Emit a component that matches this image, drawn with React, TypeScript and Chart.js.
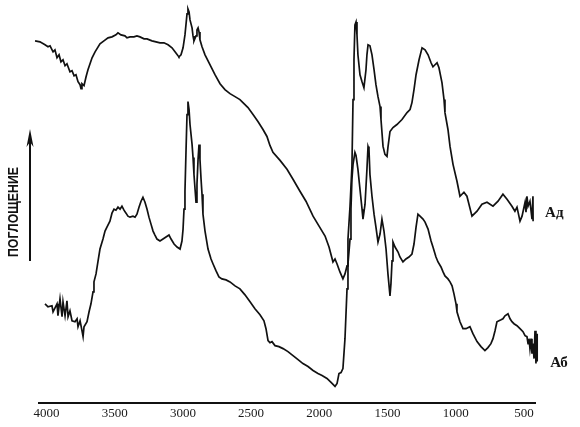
import React, { useEffect, useRef } from "react";
import { Chart, registerables } from "chart.js";

Chart.register(...registerables);

// Wavenumber (cm-1) / absorbance (arbitrary units)
const adWavenumbers = [4084,4048,4011,3989,3974,3952,3938,3923,3908,3894,3879,3864,3850,3828,3813,3798,3784,3769,3754,3747,3740,3725,3710,3696,3681,3666,3644,3608,3579,3549,3520,3491,3476,3454,3425,3410,3388,3359,3337,3315,3285,3263,3227,3197,3168,3139,3109,3080,3058,3036,3029,3014,2999,2985,2977,2970,2963,2955,2948,2933,2926,2919,2904,2897,2889,2882,2875,2860,2838,2801,2765,2728,2692,2655,2618,2582,2560,2523,2486,2450,2413,2384,2362,2340,2288,2237,2193,2142,2098,2046,2002,1958,1929,1900,1885,1870,1849,1827,1812,1797,1790,1775,1761,1753,1746,1739,1731,1724,1717,1702,1687,1673,1658,1651,1643,1629,1614,1599,1585,1570,1555,1548,1533,1519,1504,1497,1482,1460,1431,1394,1357,1335,1321,1306,1291,1269,1247,1225,1203,1181,1167,1152,1137,1123,1101,1086,1079,1057,1042,1020,991,969,940,918,881,844,808,771,727,690,654,624,588,566,551,529,514,492,485,478,470,456,441,434,433];
const adAbsorbance = [364,363,360,358,359,353,355,347,350,343,345,339,341,333,334,329,330,323,320,316,321,319,328,335,341,347,353,361,364,367,368,370,372,370,369,367,368,368,369,368,366,366,364,363,362,362,360,357,353,349,348,350,357,370,381,391,396,393,385,377,369,364,369,375,377,373,365,358,350,340,330,321,315,311,308,305,302,297,290,283,275,268,259,252,244,235,225,213,203,188,178,168,157,142,145,140,132,125,130,138,165,198,238,305,345,380,383,370,350,330,323,317,335,350,360,359,350,335,320,308,298,285,258,250,248,257,273,277,280,285,292,295,302,315,330,345,357,355,350,342,338,340,342,337,322,305,292,275,258,240,223,208,212,208,188,193,200,202,198,203,210,205,198,193,197,183,188,202,192,208,198,203,185,208,183];

const abWavenumbers = [4011,3989,3960,3952,3923,3916,3901,3886,3879,3864,3850,3842,3828,3813,3791,3776,3769,3754,3740,3732,3725,3703,3688,3674,3659,3652,3637,3622,3608,3586,3571,3557,3535,3520,3505,3491,3476,3461,3447,3432,3417,3403,3388,3366,3351,3337,3322,3307,3293,3278,3263,3249,3234,3219,3205,3190,3168,3146,3124,3102,3087,3065,3043,3021,3007,2999,2992,2985,2977,2970,2963,2955,2948,2933,2926,2919,2911,2904,2897,2889,2882,2875,2867,2860,2853,2838,2816,2794,2779,2757,2736,2714,2684,2655,2618,2582,2545,2508,2472,2435,2406,2391,2376,2362,2347,2325,2296,2266,2230,2193,2156,2120,2083,2046,2010,1980,1944,1914,1885,1870,1856,1841,1827,1812,1797,1790,1775,1768,1761,1753,1739,1731,1717,1702,1687,1680,1665,1651,1643,1636,1629,1614,1599,1585,1570,1555,1541,1526,1511,1497,1482,1475,1467,1460,1445,1423,1409,1387,1365,1343,1321,1306,1291,1277,1262,1240,1225,1203,1181,1167,1145,1130,1108,1093,1079,1057,1042,1027,1013,998,991,969,947,925,896,874,844,815,786,764,742,727,712,698,683,668,654,639,617,602,588,573,551,529,507,492,478,470,463,456,448,441,434,426,419,412,404,403];
const abAbsorbance = [100,97,98,92,100,88,105,87,102,88,103,87,93,83,82,85,77,83,73,67,77,82,92,100,112,122,130,143,155,165,173,177,183,191,195,194,197,195,198,194,191,188,187,188,187,190,197,203,207,202,195,187,180,173,169,165,163,165,167,169,165,160,157,155,163,175,195,213,255,290,303,295,280,260,247,230,215,202,220,245,260,245,225,210,190,173,155,145,140,133,127,125,124,122,118,115,109,102,95,89,83,75,63,61,62,58,57,55,52,48,44,40,37,33,30,28,25,21,17,20,30,31,35,65,115,140,165,195,225,240,252,249,235,215,195,185,200,235,258,255,230,208,190,177,162,170,185,173,155,130,108,120,143,162,157,152,147,142,145,147,150,160,177,190,188,185,182,175,163,157,147,142,137,132,128,125,122,118,110,100,92,82,75,75,77,70,62,57,53,56,60,65,73,82,83,84,85,88,90,85,82,80,78,75,72,68,67,60,65,55,65,50,60,45,73,40,70,42];

const seriesLabels = ["Ад", "Аб"];
const tickValues = [4000, 3500, 3000, 2500, 2000, 1500, 1000, 500];
const axisTitle = "ПОГЛОЩЕНИЕ";

const toPoints = (xs: number[], ys: number[]) => xs.map((x, i) => ({ x, y: ys[i] }));

const annotationPlugin = {
  id: "spectrumAnnotations",
  afterDraw(chart: any) {
    const ctx = chart.ctx as CanvasRenderingContext2D;
    ctx.save();
    // series labels at the end of each curve
    ctx.fillStyle = "#151515";
    ctx.font = 'bold 15px "Liberation Serif"';
    ctx.textBaseline = "middle";
    ctx.textAlign = "left";
    const offsets = [
      { dx: 12, dy: -8 },
      { dx: 13, dy: 2 },
    ];
    chart.data.datasets.forEach((_ds: any, i: number) => {
      const meta = chart.getDatasetMeta(i);
      const last = meta.data[meta.data.length - 1];
      if (!last) return;
      ctx.fillText(seriesLabels[i], last.x + offsets[i].dx, last.y + offsets[i].dy);
    });

    // vertical arrow
    ctx.strokeStyle = "#111";
    ctx.fillStyle = "#111";
    ctx.lineWidth = 2;
    ctx.beginPath();
    ctx.moveTo(30, 261);
    ctx.lineTo(30, 138);
    ctx.stroke();
    ctx.beginPath();
    ctx.moveTo(30, 129);
    ctx.lineTo(26.5, 147);
    ctx.lineTo(30, 142);
    ctx.lineTo(33.5, 147);
    ctx.closePath();
    ctx.fill();

    // rotated axis caption
    ctx.font = 'bold 14px "Liberation Sans"';
    const w = ctx.measureText(axisTitle).width;
    ctx.translate(14, 212);
    ctx.rotate(-Math.PI / 2);
    ctx.scale(90 / w, 1);
    ctx.textAlign = "center";
    ctx.textBaseline = "middle";
    ctx.fillText(axisTitle, 0, 0);
    ctx.restore();
  },
};

export default function App() {
  const canvasRef = useRef<HTMLCanvasElement | null>(null);

  useEffect(() => {
    if (!canvasRef.current) return;
    const lineStyle = {
      borderColor: "#111111",
      borderWidth: 1.7,
      pointRadius: 0,
      tension: 0,
      fill: false,
      clip: false as any,
    };
    const chart = new Chart(canvasRef.current, {
      type: "line",
      data: {
        datasets: [
          { label: seriesLabels[0], data: toPoints(adWavenumbers, adAbsorbance), ...lineStyle },
          { label: seriesLabels[1], data: toPoints(abWavenumbers, abAbsorbance), ...lineStyle },
        ],
      },
      options: {
        animation: false,
        responsive: false,
        events: [],
        layout: { padding: { left: 39, right: 45, top: 5, bottom: 4 } },
        plugins: {
          legend: { display: false },
          tooltip: { enabled: false },
        },
        scales: {
          x: {
            type: "linear",
            reverse: true,
            min: 419,
            max: 4055,
            grid: { display: false, drawTicks: false },
            border: { display: true, color: "#111", width: 2 },
            afterBuildTicks: (scale: any) => {
              scale.ticks = tickValues.map((v) => ({ value: v }));
            },
            ticks: {
              autoSkip: false,
              maxRotation: 0,
              padding: 2,
              color: "#1a1a1a",
              font: { family: '"Liberation Serif"', size: 13 },
              callback: (v: any) => String(v),
            },
          },
          y: {
            display: false,
            min: 0,
            max: 400,
          },
        },
      },
      plugins: [annotationPlugin],
    });
    return () => chart.destroy();
  }, []);

  return (
    <div style={{ position: "fixed", left: 0, top: 0, width: 580, height: 427, background: "#fff" }}>
      <canvas ref={canvasRef} width={580} height={427} style={{ display: "block" }} />
    </div>
  );
}
